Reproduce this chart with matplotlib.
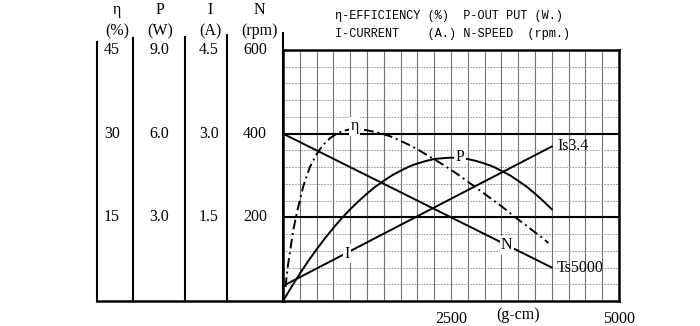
import numpy as np
import matplotlib
matplotlib.use("Agg")
import matplotlib.pyplot as plt
import matplotlib.transforms as mtransforms

plt.rcParams['font.family'] = ['Liberation Serif', 'DejaVu Serif']

# torque axis (g-cm)
torque = [0, 125, 250, 375, 500, 625, 750, 875, 1000, 1125, 1250, 1375,
          1500, 1625, 1750, 1875, 2000, 2125, 2250, 2375, 2500, 2625,
          2750, 2875, 3000, 3125, 3250, 3375, 3500, 3625, 3750, 3875, 4000]
# output power (W)
power = [0, 0.50, 0.98, 1.43, 1.85, 2.25, 2.62, 2.97, 3.29, 3.58, 3.85, 4.10,
         4.31, 4.51, 4.67, 4.82, 4.93, 5.02, 5.09, 5.12, 5.14, 5.12,
         5.09, 5.02, 4.93, 4.82, 4.67, 4.51, 4.31, 4.10, 3.85, 3.58, 3.29]

# efficiency (%)
eta_torque = [40, 50, 75, 100, 125, 150, 175, 200, 225, 250, 300, 350, 400,
              450, 500, 550, 600, 650, 700, 750, 800, 900, 1000, 1125,
              1250, 1375, 1500, 1625, 1750, 1875, 2000, 2125, 2250, 2375,
              2500, 2625, 2750, 2875, 3000, 3125, 3250, 3375, 3500, 3625,
              3750, 3850, 3950]
eta = [2.5, 4.0, 6.5, 8.5, 10.5, 12.5, 14.0, 15.5, 16.8, 18.0, 20.5, 22.3,
       24.0, 25.2, 26.3, 27.2, 28.0, 28.6, 29.2, 29.6, 30.0, 30.5, 30.8,
       30.8, 30.6, 30.3, 29.9, 29.4, 28.7, 28.0, 27.2, 26.3, 25.4, 24.5,
       23.5, 22.5, 21.4, 20.3, 19.2, 18.1, 17.0, 15.8, 14.6, 13.5,
       12.3, 11.4, 10.4]

# speed (rpm) and current (A), straight lines
line_torque = [0, 4000]
speed = [400, 80]
current = [0.27, 2.77]

# left hand scale table
col_names = ['η', 'P', 'I', 'N']
col_units = ['(%)', '(W)', '(A)', '(rpm)']
col_ticks = [['15', '30', '45'], ['3.0', '6.0', '9.0'],
             ['1.5', '3.0', '4.5'], ['200', '400', '600']]
tick_rpm = [200, 400, 600]

fig = plt.figure(figsize=(7, 3.26), dpi=100)
bg = fig.add_axes([0, 0, 1, 1])
bg.set_xlim(0, 700)
bg.set_ylim(326, 0)
bg.axis('off')

ax = fig.add_axes([283 / 700, 25 / 326, 336 / 700, 251 / 326])
ax.set_xlim(0, 5000)
ax.set_ylim(0, 600)
ax.set_xticks(np.arange(0, 5001, 250))
ax.set_xticklabels(['2500' if t == 2500 else '5000' if t == 5000 else ''
                    for t in np.arange(0, 5001, 250)], fontsize=11.5)
ax.set_yticks(np.arange(0, 601, 40))
ax.set_yticklabels([])
ax.tick_params(length=0, pad=7)
ax.grid(axis='x', color='#707070', lw=0.8)
ax.grid(axis='y', color='#8a8a8a', lw=0.6, linestyle=(0, (2, 1.5)))
for s in ax.spines.values():
    s.set_linewidth(1.8)
for y in [200, 400]:
    ax.axhline(y, color='black', lw=1.5)
ax.text(3500, -33, '(g-cm)', ha='center', va='center', fontsize=11.5)

ax_eta = ax.twinx()
ax_eta.set_ylim(0, 45)
ax_p = ax.twinx()
ax_p.set_ylim(0, 9)
ax_i = ax.twinx()
ax_i.set_ylim(0, 4.5)
for a in (ax_eta, ax_p, ax_i):
    a.axis('off')

box = dict(facecolor='white', edgecolor='none', pad=1.0)

ax.plot(line_torque, speed, color='black', lw=1.4)
ax.text(3330, 133, 'N', ha='center', va='center', fontsize=11.5, bbox=box)
ax.text(4080, 80, 'Ts5000', ha='left', va='center', fontsize=11.5)

ax_i.plot(line_torque, current, color='black', lw=1.4)
ax_i.text(950, 0.85, 'I', ha='center', va='center', fontsize=11.5, bbox=box)
ax_i.text(4080, 2.77, 'Is3.4', ha='left', va='center', fontsize=11.5)

ax_p.plot(torque, power, color='black', lw=1.4)
ax_p.text(2630, 5.16, 'P', ha='center', va='center', fontsize=11.5, bbox=box)

ax_eta.plot(eta_torque, eta, color='black', lw=1.4,
            linestyle=(0, (5, 2, 1, 2)))
ax_eta.text(1070, 31.3, 'η', ha='center', va='center', fontsize=11.5, bbox=box)

# scale table on the left
col_x = [97, 133, 185, 227, 283]
col_top = [42, 38, 37, 35, 33]
for x, top in zip(col_x, col_top):
    bg.plot([x, x], [top, 301], color='black', lw=1.5)
bg.plot([97, 283], [301, 301], color='black', lw=1.8)

head_x = [117, 160, 210, 259]
tick_x = [112, 159, 209, 255]
for hx, name, unit in zip(head_x, col_names, col_units):
    bg.text(hx, 10, name, ha='center', va='center', fontsize=11.5)
    bg.text(hx, 31, unit, ha='center', va='center', fontsize=11.5)

trans = mtransforms.blended_transform_factory(bg.transData, ax.transData)
for tx, labels in zip(tick_x, col_ticks):
    for lab, y in zip(labels, tick_rpm):
        bg.text(tx, y, lab, ha='center', va='center', fontsize=11.5,
                transform=trans)

# key in the top right
bg.text(335, 16, 'η-EFFICIENCY (%)  P-OUT PUT (W.)', ha='left', va='center',
        fontsize=8.6, family=['Liberation Mono', 'DejaVu Sans Mono'])
bg.text(335, 34, 'I-CURRENT    (A.) N-SPEED  (rpm.)', ha='left', va='center',
        fontsize=8.6, family=['Liberation Mono', 'DejaVu Sans Mono'])

fig.savefig('out.png', dpi=100)
